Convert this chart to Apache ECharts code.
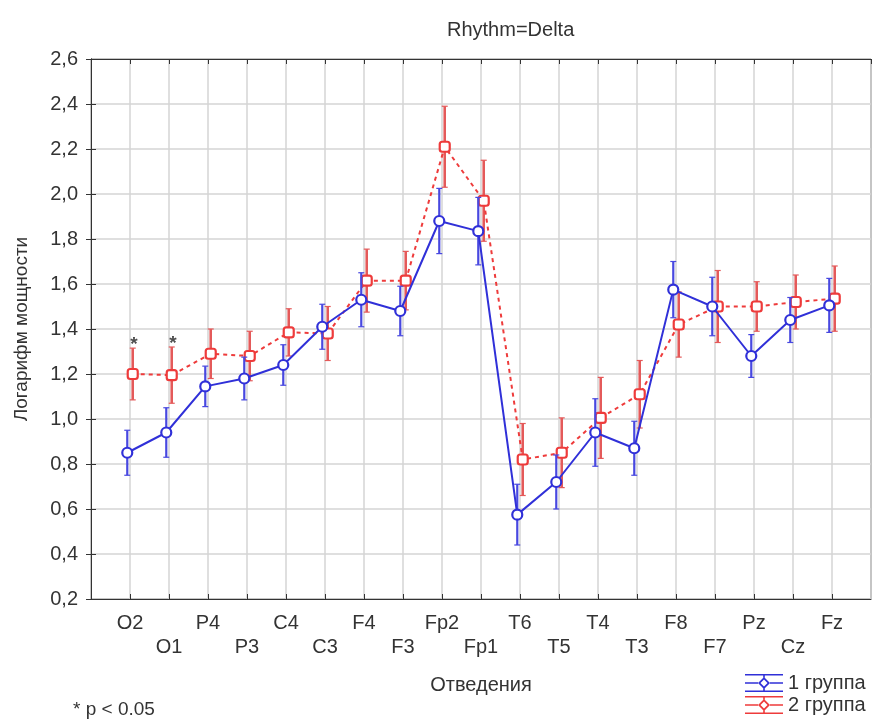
<!DOCTYPE html>
<html>
<head>
<meta charset="utf-8">
<script src="https://cdn.jsdelivr.net/npm/echarts@6/dist/echarts.min.js"></script>
<style>
html,body{margin:0;padding:0;background:#fff;}
#chart{width:877px;height:724px;}
</style>
</head>
<body>
<div id="chart"></div>
<script>
const categories = ['O2','O1','P4','P3','C4','C3','F4','F3','Fp2','Fp1','T6','T5','T4','T3','F8','F7','Pz','Cz','Fz'];
const group1Mean = [0.85,0.94,1.145,1.18,1.24,1.41,1.53,1.48,1.88,1.835,0.575,0.72,0.94,0.87,1.575,1.50,1.28,1.44,1.505];
const group1Err  = [0.10,0.11,0.09,0.095,0.09,0.10,0.12,0.11,0.145,0.15,0.135,0.12,0.15,0.12,0.125,0.13,0.095,0.10,0.12];
const group2Mean = [1.20,1.195,1.29,1.28,1.385,1.38,1.615,1.615,2.21,1.97,0.82,0.85,1.005,1.11,1.42,1.50,1.50,1.52,1.535];
const group2Err  = [0.115,0.125,0.11,0.11,0.105,0.12,0.14,0.13,0.18,0.18,0.16,0.155,0.18,0.15,0.145,0.16,0.11,0.12,0.145];
const sigCategories = ['O2','O1'];
const yTicks = {min:0.2, max:2.6, step:0.2};
const seriesNames = ['1 группа','2 группа'];

const BLUE = '#3030d8', BLUE_ERR = '#4848e0';
const RED = '#ee3b3b', RED_ERR = '#e45a5a';
const TXT = '#333';
const FONT = '"Liberation Sans",Arial,sans-serif';

function errSeries(mean, err, off, color, width, z){
  return {
    type:'custom', z:z, silent:true,
    data: categories.map((c,i)=>[i+1+off, mean[i]-err[i], mean[i]+err[i]]),
    encode:{x:0, y:[1,2]},
    renderItem:function(params, api){
      const x = api.value(0);
      const lo = api.coord([x, api.value(1)]);
      const hi = api.coord([x, api.value(2)]);
      const cw = 3;
      const st = {stroke:color, lineWidth:width};
      return {type:'group', children:[
        {type:'line', shape:{x1:lo[0],y1:lo[1],x2:hi[0],y2:hi[1]}, style:st},
        {type:'line', shape:{x1:lo[0]-cw,y1:lo[1],x2:lo[0]+cw,y2:lo[1]}, style:{stroke:color,lineWidth:1.2}},
        {type:'line', shape:{x1:hi[0]-cw,y1:hi[1],x2:hi[0]+cw,y2:hi[1]}, style:{stroke:color,lineWidth:1.2}}
      ]};
    }
  };
}
function lineSeries(name, mean, off, color, symbol, dashed, z){
  return {
    name:name, type:'line', z:z,
    data: categories.map((c,i)=>[i+1+off, mean[i]]),
    symbol:symbol, symbolSize:10, showAllSymbol:true,
    color:color,
    lineStyle:{color:color, width:2, type: dashed ? [4,4] : 'solid'},
    itemStyle:{color:'#fff', borderColor:color, borderWidth:2.2},
    emphasis:{disabled:true}
  };
}

const legendIcon = 'path://M0 0H38V1.6H0Z M0 16.4H38V18H0Z M0 8.2H13V9.8H0Z M25 8.2H38V9.8H25Z M18.2 0H19.8V3.5H18.2Z M18.2 14.5H19.8V18H18.2Z M19 3L25 9L19 15L13 9Z M19 5.5L15.5 9L19 12.5L22.5 9Z';

const chart = echarts.init(document.getElementById('chart'));
chart.setOption({
  animation:false,
  backgroundColor:'#fff',
  title:{text:'Rhythm=Delta', left:442, top:15,
    textStyle:{fontSize:20, fontWeight:'normal', color:TXT, fontFamily:FONT}},
  grid:{left:91, right:6, top:59, bottom:125, show:true, borderColor:'#333', borderWidth:1},
  legend:{
    orient:'vertical', left:745, top:673, itemGap:2, itemWidth:38, itemHeight:18,
    padding:0, itemTextGap:6,
    textStyle:{fontSize:20, color:TXT, fontFamily:FONT},
    data:[
      {name:seriesNames[0], icon:legendIcon, itemStyle:{color:BLUE, borderWidth:0}},
      {name:seriesNames[1], icon:legendIcon, itemStyle:{color:RED, borderWidth:0}}
    ]
  },
  graphic:[
    {type:'text', left:73, top:700, style:{text:'* p < 0.05', fontSize:19, fill:TXT, fontFamily:FONT}}
  ],
  xAxis:[{
    type:'value', min:0, max:categories.length+1, interval:1,
    name:'Отведения', nameLocation:'middle', nameGap:76,
    nameTextStyle:{fontSize:20, color:TXT, fontFamily:FONT},
    axisLine:{show:true, lineStyle:{color:'#333', width:1}},
    axisTick:{show:true, inside:true, length:5, lineStyle:{color:'#333'}},
    splitLine:{show:true, lineStyle:{color:'#d4d4d4', width:1.5}},
    axisLabel:{
      margin:12, fontSize:20, color:TXT, fontFamily:FONT, lineHeight:24,
      showMinLabel:false, showMaxLabel:false,
      formatter:function(v){
        const i = Math.round(v)-1;
        if(i<0 || i>=categories.length) return '';
        return i%2===0 ? categories[i] : '\n'+categories[i];
      }
    }
  },{
    type:'value', position:'top', min:0, max:categories.length+1, interval:1,
    axisLine:{show:true, lineStyle:{color:'#333'}},
    axisTick:{show:true, inside:true, length:5, lineStyle:{color:'#333'}},
    axisLabel:{show:false}, splitLine:{show:false}
  }],
  yAxis:[{
    type:'value', min:yTicks.min, max:yTicks.max, interval:yTicks.step,
    name:'Логарифм мощности', nameLocation:'middle', nameGap:60,
    nameTextStyle:{fontSize:19, color:TXT, fontFamily:FONT},
    axisLine:{show:true, lineStyle:{color:'#333'}},
    axisTick:{show:true, inside:true, length:5, lineStyle:{color:'#333'}},
    splitLine:{show:true, lineStyle:{color:'#d4d4d4', width:1.5}},
    axisLabel:{margin:13, fontSize:20, color:TXT, fontFamily:FONT,
      formatter:function(v){return v.toFixed(1).replace('.', ',');}}
  },{
    type:'value', position:'right', min:yTicks.min, max:yTicks.max, interval:yTicks.step,
    axisLine:{show:true, lineStyle:{color:'#333'}},
    axisTick:{show:true, inside:true, length:5, lineStyle:{color:'#333'}},
    axisLabel:{show:false}, splitLine:{show:false}
  }],
  series:[
    errSeries(group2Mean, group2Err, 0.07, RED_ERR, 2.6, 1),
    lineSeries(seriesNames[1], group2Mean, 0.07, RED, 'roundRect', true, 2),
    errSeries(group1Mean, group1Err, -0.07, BLUE_ERR, 2.2, 3),
    lineSeries(seriesNames[0], group1Mean, -0.07, BLUE, 'circle', false, 4),
    {
      type:'scatter', z:5, silent:true, symbolSize:1, itemStyle:{color:'rgba(0,0,0,0)'},
      data: sigCategories.map(function(c){
        const i = categories.indexOf(c);
        return [i+1+0.1, group2Mean[i]+group2Err[i]+0.015];
      }),
      label:{show:true, position:'inside', formatter:'*', fontSize:19, fontWeight:'bold', color:'#222', fontFamily:FONT}
    }
  ]
});
</script>
</body>
</html>
